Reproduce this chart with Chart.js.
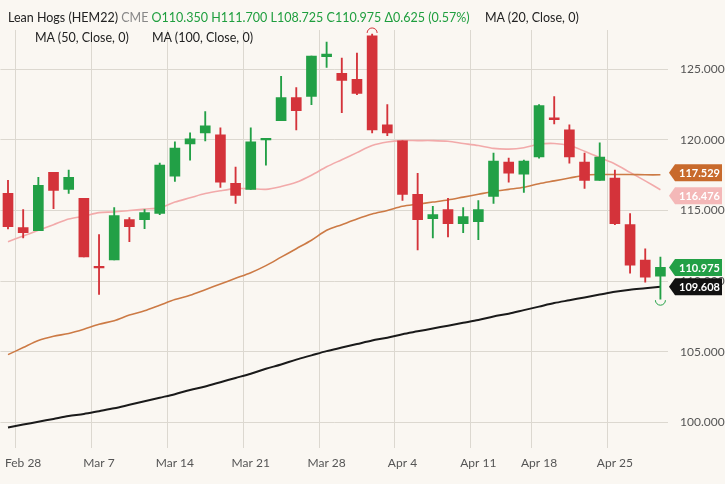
<!DOCTYPE html>
<html><head><meta charset="utf-8">
<script src="https://cdn.jsdelivr.net/npm/chart.js@4"></script>
<style>
body{margin:0;background:#faf7f2;font-family:Lato,sans-serif;}
#wrap{position:relative;width:725px;height:484px;}
.t{position:absolute;font-size:12.5px;color:#222;white-space:nowrap;}
</style></head><body>
<div id="wrap">
<canvas id="c" width="725" height="484"></canvas>
<div class="t" style="left:8px;top:10px">Lean Hogs (HEM22) <span style="color:#888">CME</span> <span style="color:#1e9e3e">O110.350 H111.700 L108.725 C110.975 Δ0.625 (0.57%)</span></div>
<div class="t" style="left:485px;top:10px">MA (20, Close, 0)</div>
<div class="t" style="left:35px;top:30px">MA (50, Close, 0)</div>
<div class="t" style="left:152px;top:30px">MA (100, Close, 0)</div>
</div>
<script>
const dates=["Feb 25","Feb 28","Mar 1","Mar 2","Mar 3","Mar 4","Mar 7","Mar 8","Mar 9","Mar 10","Mar 11","Mar 14","Mar 15","Mar 16","Mar 17","Mar 18","Mar 21","Mar 22","Mar 23","Mar 24","Mar 25","Mar 28","Mar 29","Mar 30","Mar 31","Apr 1","Apr 4","Apr 5","Apr 6","Apr 7","Apr 8","Apr 11","Apr 12","Apr 13","Apr 14","Apr 18","Apr 19","Apr 20","Apr 21","Apr 22","Apr 25","Apr 26","Apr 27","Apr 28"];
const tickDates=["Feb 28","Mar 7","Mar 14","Mar 21","Mar 28","Apr 4","Apr 11","Apr 18","Apr 25"];
const openV=[116.21,113.79,113.57,117.71,116.5,115.86,111.05,111.5,114.36,114.36,114.79,117.43,119.71,120.5,120.36,116.93,116.5,120.0,121.36,123,123.07,125.9,124.71,124.29,127.36,121.07,119.93,116.14,114.43,115.07,114.07,114.21,116,118.43,117.57,118.79,121.57,120.71,118.43,117.14,117.29,114,111.5,110.35];
const closeV=[113.86,113.43,116.79,116.43,117.36,111.71,110.95,114.64,113.86,114.86,118.21,119.43,120.07,121,117,116.07,119.86,120.1,123,122.07,125.93,126.07,124.21,123.29,120.71,120.5,116.14,114.36,114.71,114.07,114.57,115.07,118.5,117.64,118.5,122.43,121.43,118.79,117.14,118.79,114.07,111.14,110.29,110.975];
const highV=[117.14,115.07,117.36,117.71,117.86,115.86,113.29,115.21,114.5,115.07,118.36,119.86,120.5,122,120.86,118.07,120.86,120.1,124.5,123.71,125.93,126.93,125.79,126.14,127.5,122.5,119.93,117.64,115.29,115.86,115.21,115.71,119.07,118.71,118.57,122.5,123.07,121.07,119.07,119.79,117.86,114.79,112.29,111.7];
const lowV=[113.7,113.07,113.57,115.14,116.21,111.71,109.07,111.5,112.79,113.71,114.71,117.07,118.57,119.93,116.64,115.5,116.5,118.21,121.36,120.71,122.5,125.14,121.93,123.2,120.5,120.3,115.71,112.21,113.07,113.14,113.43,112.93,115.5,117,116.29,118.7,121.14,118.36,116.57,117.14,114,110.57,109.93,108.725];
const ma20=[112.8,113.2,113.6,114.0,114.4,114.6,114.85,114.9,115.0,115.1,115.2,115.6,115.9,116.2,116.4,116.55,116.55,116.5,116.7,117.0,117.5,118.1,118.6,119.1,119.6,119.85,119.95,119.95,119.95,119.9,119.75,119.6,119.4,119.35,119.45,119.7,119.75,119.6,119.2,118.75,118.3,117.7,117.1,116.476];
const ma50=[104.8,105.3,105.8,106.1,106.3,106.6,106.95,107.2,107.6,107.9,108.3,108.7,109.0,109.4,109.8,110.2,110.6,111.1,111.7,112.3,112.9,113.6,114.0,114.4,114.75,115.0,115.3,115.45,115.6,115.75,115.95,116.15,116.35,116.5,116.65,116.9,117.1,117.3,117.5,117.55,117.55,117.55,117.53,117.529];
const ma100=[99.64,99.85,100.05,100.25,100.45,100.6,100.8,101.0,101.25,101.5,101.75,102.0,102.3,102.55,102.85,103.15,103.45,103.8,104.1,104.45,104.75,105.05,105.3,105.55,105.8,106.0,106.25,106.45,106.65,106.85,107.05,107.25,107.5,107.7,107.95,108.2,108.45,108.65,108.85,109.05,109.25,109.4,109.5,109.608];
const yTicks=[100,105,110,115,120,125];

const RED='#d4333a',GREEN='#22a046';
const col=openV.map((o,i)=>closeV[i]>=o?GREEN:RED);
const bodies=openV.map((o,i)=>{let c=closeV[i];if(Math.abs(c-o)<0.12){c=o+(c>=o?0.12:-0.12);}return [o,c];});
const wicks=lowV.map((l,i)=>[l,highV[i]]);

const tags={id:'tags',afterDraw(ch){
 const ctx=ch.ctx,y=ch.scales.y,x=ch.scales.x;
 const items=[[117.529,'#c86a2c','#fff',-1],[116.476,'#f4b8b8','#fff',1],[110.975,GREEN,'#fff',0],[109.608,'#111','#fff',0]];
 ctx.font='bold 11px Lato, sans-serif';ctx.textBaseline='middle';
 items.forEach(([v,bg,fg,adj])=>{
  let py=y.getPixelForValue(v);
  if(adj===-1)py-=2; if(adj===1)py+=6;
  if(v===109.608)py=Math.max(py,y.getPixelForValue(110.975)+19);
  const x0=669,w=53,h=17;
  ctx.fillStyle=bg;ctx.beginPath();ctx.moveTo(x0,py);ctx.lineTo(x0+6,py-h/2);ctx.lineTo(x0+w,py-h/2);ctx.lineTo(x0+w,py+h/2);ctx.lineTo(x0+6,py+h/2);ctx.closePath();ctx.fill();
  ctx.fillStyle=fg;ctx.textAlign='left';ctx.fillText(v.toFixed(3),x0+10,py+1);
 });
 ctx.strokeStyle=RED;ctx.lineWidth=1;
 let cx=x.getPixelForValue(24),cy=y.getPixelForValue(highV[24]);
 ctx.beginPath();ctx.arc(cx,cy-1,5,Math.PI,2*Math.PI);ctx.stroke();
 ctx.strokeStyle=GREEN;cx=x.getPixelForValue(43);cy=y.getPixelForValue(lowV[43]);
 ctx.beginPath();ctx.arc(cx,cy+1,5,0,Math.PI);ctx.stroke();
}};

new Chart(document.getElementById('c'),{
 data:{labels:dates,datasets:[
  {type:'line',data:ma100,borderColor:'#1a1a1a',borderWidth:2,pointRadius:0,tension:0.3,order:3},
  {type:'line',data:ma50,borderColor:'#cc7a45',borderWidth:1.6,pointRadius:0,tension:0.3,order:3},
  {type:'line',data:ma20,borderColor:'#f2aaaa',borderWidth:1.6,pointRadius:0,tension:0.3,order:3},
  {type:'bar',data:wicks,backgroundColor:col,barThickness:1.2,grouped:false,order:2},
  {type:'bar',data:bodies,backgroundColor:col,barThickness:10,grouped:false,order:1}
 ]},
 plugins:[tags],
 options:{responsive:false,animation:false,
  layout:{padding:{left:-6,right:0,top:30,bottom:6}},
  plugins:{legend:{display:false},tooltip:{enabled:false}},
  scales:{
   x:{offset:true,border:{display:false},
     grid:{color:c=>tickDates.includes(dates[c.index])?'#dcd8d0':'rgba(0,0,0,0)',borderDash:[1,3],drawTicks:false},
     ticks:{autoSkip:false,maxRotation:0,color:'#555',font:{family:'Lato',size:12},padding:8,
       callback:(v,i)=>tickDates.includes(dates[i])?dates[i]:''}},
   y:{position:'right',min:98.22,max:127.78,border:{display:false},
     afterBuildTicks:s=>{s.ticks=yTicks.map(v=>({value:v}));},
     grid:{color:'#dcd8d0',borderDash:[1,3],drawTicks:false},
     afterFit:s=>{s.width=57;},
     ticks:{color:'#555',font:{family:'Lato',size:12},padding:12,callback:v=>v.toFixed(3)}}
  }}
});
</script></body></html>
